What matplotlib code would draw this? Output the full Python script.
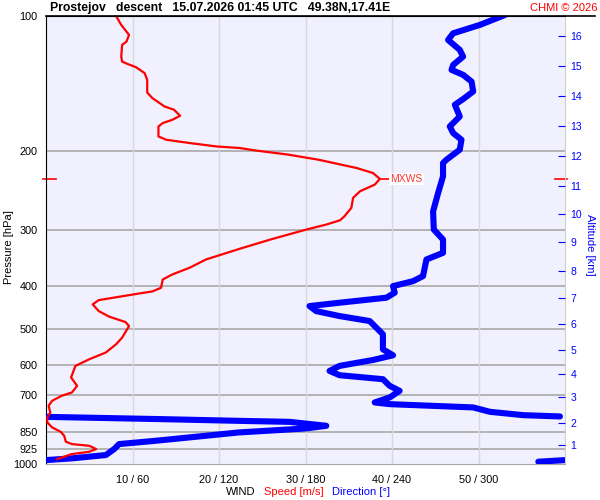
import numpy as np
import matplotlib
matplotlib.use('Agg')
import matplotlib.pyplot as plt
import matplotlib.transforms as mtransforms
from matplotlib.lines import Line2D

plt.rcParams['font.family'] = ['Liberation Sans', 'DejaVu Sans']

## wind speed profile: pressure [hPa] / speed [m/s]
spd_p = [100, 104.7, 110.2, 114.1, 116.0, 123.2, 126.4, 127.9, 130.1, 134.1,
         138.8, 148.2, 152.5, 159.2, 161.9, 167.0, 170.5, 173.4, 176.4, 185.7,
         188.9, 192.1, 195.5, 197.1, 199.7, 203.9, 209.3, 218.4, 224.1, 231.1,
         237.9, 246.2, 254.7, 268.1, 279.9, 285.7, 292.1, 299.7, 314.4, 330.8,
         349.5, 364.7, 377.5, 387.3, 404.2, 411.9, 416.2, 430.7, 440.3, 455.7,
         468.9, 482.2, 492.2, 522.3, 540.5, 564.0, 583.7, 604.0, 641.0, 669.2,
         692.3, 704.5, 722.8, 741.6, 767.2, 787.1, 807.5, 828.5, 847.4, 864.9,
         892.0, 902.7, 910.6, 926.1, 939.0, 950.2, 974.7]
spd = [8.1, 8.7, 9.6, 9.3, 8.8, 8.7, 8.8, 9.4, 10.4, 11.4,
       11.7, 11.7, 12.3, 13.7, 14.8, 15.5, 14.6, 13.5, 13.0, 13.0,
       13.9, 16.6, 19.7, 22.4, 24.3, 28.0, 31.5, 35.9, 37.8, 38.6,
       38.0, 36.3, 35.5, 35.3, 34.5, 34.0, 32.4, 30.1, 26.2, 22.4,
       18.5, 16.6, 14.6, 13.5, 13.3, 12.3, 10.8, 6.1, 5.4, 6.1,
       7.3, 9.2, 9.6, 8.8, 8.1, 6.9, 5.0, 3.4, 2.9, 3.6,
       3.0, 1.8, 0.7, 0.3, 0.5, 0.15, 0.15, 0.7, 1.7, 2.1,
       2.3, 3.0, 5.0, 5.8, 5.0, 3.0, 1.3]

## wind direction profile: pressure [hPa] / direction [deg]
dir_p = [99.5, 104.7, 109.3, 113.1, 119.0, 123.2, 128.6, 131.9, 135.3, 140.1,
         147.4, 153.3, 157.8, 167.6, 176.4, 182.5, 188.9, 198.8, 209.3, 212.9,
         228.0, 248.3, 272.9, 299.7, 315.5, 337.8, 349.5, 380.7, 390.7, 400.8,
         414.6, 425.4, 436.5, 444.1, 455.7, 467.5, 479.6, 496.2, 513.4, 554.6,
         571.9, 585.9, 604.0, 619.7, 633.6, 646.7, 669.2, 686.6, 710.3, 728.8,
         735.2, 747.7, 764.7, 778.0, 783.2, 784.9, 794.1, 801.1, 805.2, 821.8,
         832.9, 850.1, 887.4, 902.7, 926.1, 955.0, 971.2, 979.7, 980.5, 988.3]
dir_deg = [318.3, 300.9, 282.4, 278.9, 287.0, 289.3, 282.4, 281.3, 289.3, 295.2,
           296.3, 289.3, 283.6, 287.0, 280.1, 282.4, 288.2, 287.0, 277.8, 275.4,
           275.4, 272.0, 268.5, 269.0, 275.4, 275.4, 263.9, 261.5, 254.6, 240.7,
           241.9, 236.1, 203.6, 182.8, 187.4, 203.6, 224.5, 229.1, 233.7, 233.7,
           240.7, 226.8, 203.6, 196.7, 203.6, 233.7, 238.4, 245.3, 238.4, 228.0,
           238.4, 296.3, 307.9, 331.0, 356.5, 0.5, 80.6, 134.1, 168.9, 194.4,
           180.5, 134.1, 76.2, 50.7, 47.3, 41.5, 18.3, 0.9, 359.5, 341.5]

p_ticks = [100, 200, 300, 400, 500, 600, 700, 850, 925, 1000]
spd_ticks = [10, 20, 30, 40, 50]
alt_km = [1, 2, 3, 4, 5, 6, 7, 8, 9, 10, 11, 12, 13, 14, 15, 16]
alt_p = [907, 809, 709, 631, 557, 488, 427, 370, 320, 277, 239, 205, 176, 151, 129, 110.8]

# break direction line where it wraps round north
d = np.array(dir_deg, dtype=float)
dp = np.array(dir_p, dtype=float)
dx, dy = [d[0]], [dp[0]]
for i in range(1, len(d)):
    if abs(d[i] - d[i-1]) > 180:
        dx.append(np.nan)
        dy.append(np.nan)
    dx.append(d[i])
    dy.append(dp[i])
dx = np.array(dx) / 6.0

fig = plt.figure(figsize=(6, 5), dpi=100)
ax = fig.add_axes([46/600, 1-464/500, 519/600, 448/500])
ax.set_facecolor('#F0F0FF')
ax.set_yscale('log')
ax.set_ylim(1000, 100)
ax.set_xlim(0, 60)

for p in p_ticks[1:-1]:
    ax.axhline(p, color='#A8A8A8', lw=1.2, zorder=1)
for s in spd_ticks:
    ax.axvline(s, color='#D8D8D8', lw=1.0, zorder=1)

ax.plot(dx, dy, color='#0000FF', lw=4.4, solid_capstyle='round', zorder=3)
ax.plot(spd, spd_p, color='#FF0000', lw=1.6, zorder=4)

# max wind marker
imax = int(np.argmax(spd))
pmax = spd_p[imax]
ax.plot([spd[imax], spd[imax] + 1.0], [pmax, pmax], color='#FF0000', lw=1.2, zorder=4)
ax.text(spd[imax] + 1.2, pmax, 'MXWS', color='#FF3333', fontsize=7.5, va='center', ha='left',
        bbox=dict(facecolor='white', edgecolor='none', pad=0.8), zorder=5)
trans = mtransforms.blended_transform_factory(ax.transAxes, ax.transData)
ax.plot([-3/519, 10/519], [pmax, pmax], color='#FF0000', lw=1.2, transform=trans, clip_on=False)
ax.plot([1-10/519, 1+2/519], [pmax, pmax], color='#FF0000', lw=1.2, transform=trans, clip_on=False)

ax.set_yticks(p_ticks)
ax.set_yticklabels([str(p) for p in p_ticks], fontsize=7.8)
ax.yaxis.set_minor_locator(matplotlib.ticker.NullLocator())
ax.tick_params(axis='y', length=0, pad=6)
ax.set_xticks(spd_ticks)
ax.set_xticklabels(['%d / %d' % (s, s*6) for s in spd_ticks], fontsize=7.8)
ax.tick_params(axis='x', length=0, pad=8)

ax.spines['left'].set_color('black')
ax.spines['top'].set_color('black')
ax.spines['bottom'].set_color('#A8A8A8')
ax.spines['right'].set_color('#D0D0D0')

ax2 = ax.twinx()
ax2.set_yscale('log')
ax2.set_ylim(1000, 100)
ax2.set_yticks(alt_p)
ax2.set_yticklabels([str(k) for k in alt_km], fontsize=7.5, color='#0000FF')
ax2.yaxis.set_minor_locator(matplotlib.ticker.NullLocator())
ax2.tick_params(axis='y', direction='in', length=5, color='#0000FF', pad=4)
for sp in ax2.spines.values():
    sp.set_visible(False)

fig.text(9/600, 1-247/500, 'Pressure [hPa]', fontsize=8, rotation=90, va='center', ha='center')
fig.text(590/600, 1-245/500, 'Altitude [km]', fontsize=8, color='#0000FF', rotation=270,
         va='center', ha='center')

fig.add_artist(Line2D([46/600, 595/600], [1-16/500, 1-16/500], color='black', lw=1.2))
fig.text(50/600, 1-8/500, 'Prostejov   descent   15.07.2026 01:45 UTC   49.38N,17.41E',
         fontsize=8.8, fontweight='bold', va='center', ha='left')
fig.text(597/600, 1-8/500, 'CHMI \u00a9 2026', color='#FF0000', fontsize=8, va='center', ha='right')

fig.text(226/600, 1-492/500, 'WIND', fontsize=8, va='center', ha='left')
fig.text(264/600, 1-492/500, 'Speed [m/s]', color='#FF0000', fontsize=8, va='center', ha='left')
fig.text(332/600, 1-492/500, 'Direction [\u00b0]', color='#0000FF', fontsize=8, va='center', ha='left')

plt.savefig('out.png', dpi=100)
